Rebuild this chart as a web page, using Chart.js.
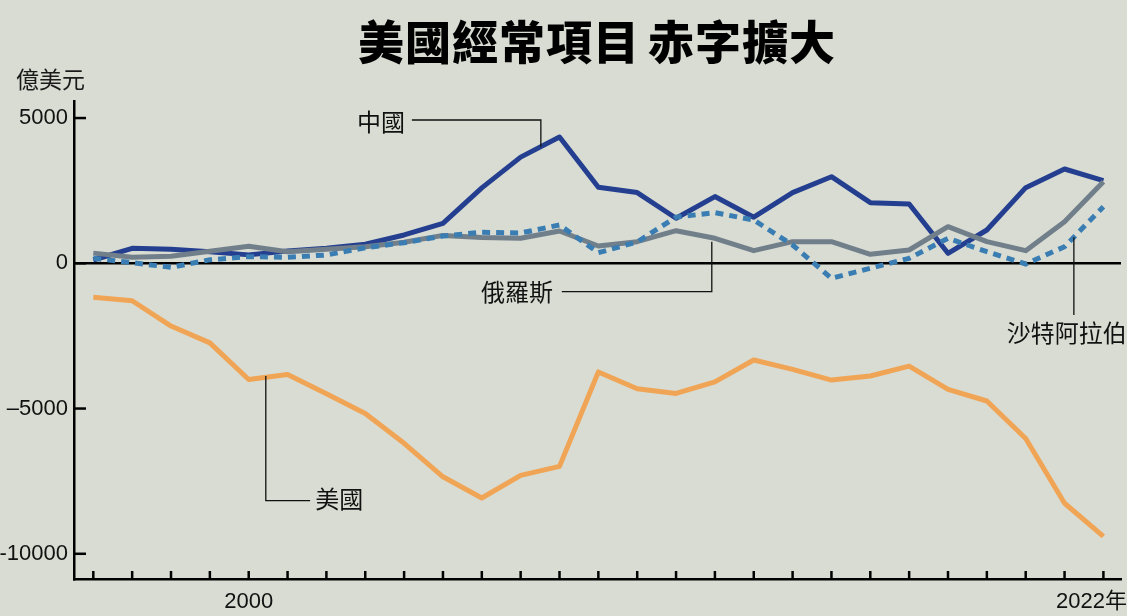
<!DOCTYPE html>
<html><head><meta charset="utf-8">
<script src="https://cdn.jsdelivr.net/npm/chart.js@4"></script>
<style>
html,body{margin:0;padding:0;background:#d9dcd2;}
#wrap{position:relative;width:1127px;height:616px;overflow:hidden;background:#d9dcd2;}
canvas{position:absolute;left:0;top:0;}
#title{position:absolute;left:358px;top:15px;font:900 46px/48px "Noto Sans CJK TC","Noto Sans CJK SC",sans-serif;letter-spacing:1px;color:#000;white-space:nowrap;}
#unit{position:absolute;left:16px;top:66px;font:400 23px/24px "Noto Sans CJK TC","Noto Sans CJK SC",sans-serif;color:#1a1a1a;white-space:nowrap;}
</style></head>
<body><div id="wrap"><canvas id="c" width="1127" height="616"></canvas>
<div id="title">美國經常項目<span style="margin-left:8px">赤字擴大</span></div>
<div id="unit">億美元</div></div>
<script>
const years = [1996,1997,1998,1999,2000,2001,2002,2003,2004,2005,2006,2007,2008,2009,2010,2011,2012,2013,2014,2015,2016,2017,2018,2019,2020,2021,2022];
const chinaValues  = [114,516,482,400,290,423,516,654,976,1377,2596,3655,4345,2620,2434,1550,2297,1586,2434,2981,2086,2041,344,1146,2603,3246,2843];
const russiaValues = [350,210,240,412,585,400,482,572,723,960,890,860,1112,596,744,1123,860,434,744,744,309,458,1260,744,434,1432,2809];
const saudiValues  = [172,21,-138,120,229,206,286,537,709,940,1067,1043,1318,365,735,1590,1742,1490,630,-516,-172,172,860,400,-24,572,1948];
const usValues     = [-1170,-1290,-2160,-2740,-4000,-3830,-4490,-5170,-6196,-7350,-8080,-7300,-6990,-3740,-4320,-4480,-4080,-3330,-3650,-4020,-3880,-3540,-4340,-4740,-6030,-8260,-9400];

const yTickValues = [-10000,-5000,0,5000];
const yTickLabels = ['-10000','\u20135000','0','5000'];
const xLabelYears = [2000,2022];
const xLabelTexts = ['2000','2022年'];
const seriesNames = ['沙特阿拉伯','俄羅斯','中國','美國'];

// callout leader lines and label anchors, in data units (year, 億美元)
const calloutPaths = [
  [[2007.52,4014],[2007.52,4933],[2004.2,4933]],
  [[2011.92,744],[2011.92,-978],[2008.06,-978]],
  [[2021.24,895],[2021.24,-1780]],
  [[2000.44,-3880],[2000.44,-8172],[2001.58,-8172]]
];
const calloutText = ['中國','俄羅斯','沙特阿拉伯','美國'];
const calloutAnchor = [[2004.02,4880],[2007.83,-978],[2019.51,-2399],[2001.71,-8113]];
const calloutAlign = ['right','right','left','left'];

const toXY = vals => years.map((yr,i)=>({x:yr,y:vals[i]}));

const decor = {
  id:'decor',
  afterDraw(chart){
    const {ctx, scales:{x,y}, chartArea:a} = chart;
    ctx.save();
    ctx.strokeStyle='#000'; ctx.lineWidth=2.5; ctx.lineCap='butt';
    x.ticks.forEach(t=>{const px=x.getPixelForValue(t.value);ctx.beginPath();ctx.moveTo(px,a.bottom);ctx.lineTo(px,a.bottom-8);ctx.stroke();});
    y.ticks.forEach(t=>{const py=y.getPixelForValue(t.value);ctx.beginPath();ctx.moveTo(a.left,py);ctx.lineTo(a.left+12,py);ctx.stroke();});
    // x labels
    ctx.fillStyle='#111'; ctx.textBaseline='middle';
    ctx.font='22px "Liberation Sans", Arial, "Noto Sans CJK TC", sans-serif';
    xLabelYears.forEach((yr,i)=>{
      const px=x.getPixelForValue(yr);
      const w=ctx.measureText(xLabelTexts[i]).width;
      let cx=px; if(cx+w/2>chart.width) cx=chart.width-w/2;
      ctx.textAlign='center';
      ctx.fillText(xLabelTexts[i],cx,a.bottom+23);
    });
    // callouts
    ctx.lineWidth=1.3; ctx.strokeStyle='#111';
    calloutPaths.forEach(p=>{
      ctx.beginPath();
      p.forEach((pt,j)=>{const px=x.getPixelForValue(pt[0]),py=y.getPixelForValue(pt[1]); if(j===0)ctx.moveTo(px,py);else ctx.lineTo(px,py);});
      ctx.stroke();
    });
    ctx.font='24px "Noto Sans CJK TC","Noto Sans CJK SC",sans-serif';
    calloutText.forEach((t,i)=>{
      ctx.textAlign=calloutAlign[i];
      ctx.fillText(t,x.getPixelForValue(calloutAnchor[i][0]),y.getPixelForValue(calloutAnchor[i][1]));
    });
    ctx.restore();
  }
};

new Chart(document.getElementById('c'),{
  type:'line',
  data:{datasets:[
    {label:seriesNames[0],data:toXY(saudiValues),borderColor:'#3a7db3',borderWidth:5,borderDash:[8,6],borderCapStyle:'butt',pointRadius:0,tension:0,fill:false},
    {label:seriesNames[1],data:toXY(russiaValues),borderColor:'#717f8b',borderWidth:5,pointRadius:0,tension:0,fill:false,borderJoinStyle:'round'},
    {label:seriesNames[2],data:toXY(chinaValues),borderColor:'#243f90',borderWidth:5,pointRadius:0,tension:0,fill:false,borderJoinStyle:'round'},
    {label:seriesNames[3],data:toXY(usValues),borderColor:'#f0a556',borderWidth:5,pointRadius:0,tension:0,fill:false,borderJoinStyle:'round'}
  ]},
  options:{
    responsive:false,animation:false,
    layout:{padding:{top:101,right:6,left:0,bottom:0}},
    plugins:{legend:{display:false},tooltip:{enabled:false},title:{display:false}},
    scales:{
      x:{type:'linear',min:1995.503,max:2022.453,
        afterBuildTicks:s=>{s.ticks=years.map(v=>({value:v}));},
        afterFit:s=>{s.height=37;},
        ticks:{display:false},
        grid:{display:false,drawTicks:false},
        border:{display:true,color:'#000',width:2.5}},
      y:{type:'linear',min:-10868,max:5587,
        afterBuildTicks:s=>{s.ticks=yTickValues.map(v=>({value:v}));},
        afterFit:s=>{s.width=74;},
        ticks:{padding:6,color:'#111',font:{family:'"Liberation Sans", Arial, sans-serif',size:22},
          callback:(v)=>{const k=yTickValues.indexOf(v);return k>=0?yTickLabels[k]:'';}},
        grid:{drawTicks:false,lineWidth:2.5,color:c=>(c.tick&&c.tick.value===0)?'#000':'rgba(0,0,0,0)'},
        border:{display:true,color:'#000',width:2.5}}
    }
  },
  plugins:[decor]
});
</script></body></html>
